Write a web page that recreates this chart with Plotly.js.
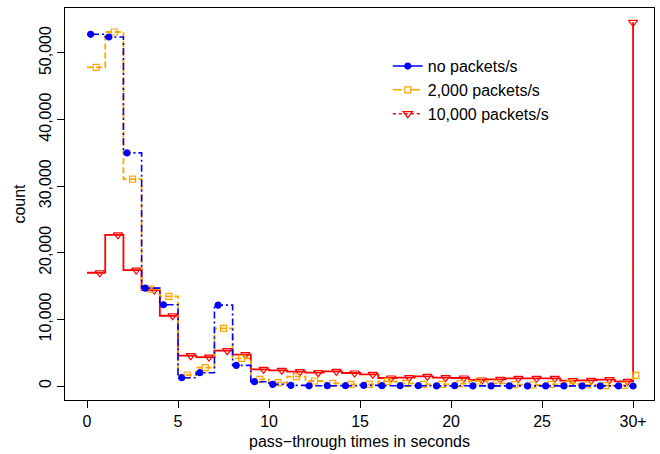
<!DOCTYPE html>
<html>
<head>
<meta charset="utf-8">
<script src="https://cdn.plot.ly/plotly-3.0.1.min.js"></script>
<style>html,body{margin:0;padding:0;background:#fff;}#chart{width:660px;height:454px;}</style>
</head>
<body>
<div id="chart"></div>
<script>
// bins: 0..29 seconds, last bin (30) is "30+"
const bins = [0,1,2,3,4,5,6,7,8,9,10,11,12,13,14,15,16,17,18,19,20,21,22,23,24,25,26,27,28,29,30];
const tickVals = [0,5,10,15,20,25,30];
const tickText = ["0","5","10","15","20","25","30+"];
const seriesNames = ["no packets/s","2,000 packets/s","10,000 packets/s"];

const noPackets = [52800,52400,35000,14700,12200,1250,2000,12150,3100,650,250,100,30,50,50,100,50,50,50,20,50,20,20,20,20,20,20,20,20,20,0];
const packets2000 = [47850,53150,31050,14550,13450,1650,2750,8650,4150,1000,500,1400,750,400,250,250,700,400,250,250,350,750,400,200,150,250,400,150,50,100,1600];
const packets10000 = [17000,22700,17400,14400,10550,4550,4350,5300,4700,2500,2350,2150,2000,2200,1950,1750,1200,1250,1450,1250,1200,900,1000,1150,1150,1150,800,850,950,700,54600];

// marker offsets inside each one-second bin (style), last bin at the 30+ position
function markerX(offset, lastOffset) {
  return bins.map((b, i) => i === bins.length - 1 ? b + lastOffset : b + offset);
}

const styles = [
  {color:"#0000FF", dash:"2px,3px,7px,3px", width:1.6, symbol:"circle", msize:6, legendDash:"solid", off:0.2, lastOff:0},
  {color:"#FFA500", dash:"6px,3px", width:1.8, symbol:"square-open", msize:6, legendDash:"dash", off:0.5, lastOff:0.15},
  {color:"#FF0000", dash:"solid", width:1.8, symbol:"triangle-down-open", msize:8, legendDash:"dot", off:0.7, lastOff:0}
];
const data = [noPackets, packets2000, packets10000];

const traces = [];
// legend entries
for (let k = 0; k < 3; k++) {
  const s = styles[k];
  traces.push({
    x:[null], y:[null], type:"scatter", mode:"lines+markers", name:seriesNames[k],
    line:{color:s.color, width:1.5, dash:s.legendDash},
    marker:{color:s.color, symbol:s.symbol, size:s.msize, line:{color:s.color, width:1.2}},
    showlegend:true, hoverinfo:"skip"
  });
}
// drawn red first, then orange, then blue on top
for (const k of [2,1,0]) {
  const s = styles[k];
  traces.push({
    x:bins, y:data[k], type:"scatter", mode:"lines", line:{shape:"hv", color:s.color, width:s.width, dash:s.dash},
    showlegend:false, hoverinfo:"skip"
  });
  traces.push({
    x:markerX(s.off, s.lastOff), y:data[k], type:"scatter", mode:"markers",
    marker:{color:s.color, symbol:s.symbol, size:s.msize, line:{color:s.color, width:1.2}},
    showlegend:false, hoverinfo:"skip"
  });
}

const font = {family:"Liberation Sans, Arial, sans-serif", size:16, color:"#000"};
const legendFont = {family:"Liberation Sans, Arial, sans-serif", size:16, color:"#000"};
const layout = {
  width:660, height:454,
  margin:{l:65, r:6, t:8, b:54},
  paper_bgcolor:"#fff", plot_bgcolor:"#fff",
  font:font,
  showlegend:true,
  legend:{x:0.548, y:0.895, xanchor:"left", yanchor:"top", bgcolor:"rgba(0,0,0,0)", font:legendFont, tracegroupgap:0},
  xaxis:{
    range:[-1.21, 31.15], tickvals:tickVals, ticktext:tickText,
    showgrid:false, zeroline:false, showline:true, mirror:true, linecolor:"#000", linewidth:1,
    ticks:"outside", ticklen:7, tickcolor:"#000", tickfont:font,
    title:{text:"pass\u2212through times in seconds", font:font, standoff:6}
  },
  yaxis:{
    range:[-2100, 56750], tickvals:[0,10000,20000,30000,40000,50000], tickformat:",d",
    showgrid:false, zeroline:false, showline:true, mirror:true, linecolor:"#000", linewidth:1,
    ticks:"outside", ticklen:7, tickcolor:"#000", tickfont:font, tickangle:-90,
    title:{text:"count", font:font, standoff:6}
  }
};
Plotly.newPlot("chart", traces, layout, {displayModeBar:false, staticPlot:true});
</script>
</body>
</html>
